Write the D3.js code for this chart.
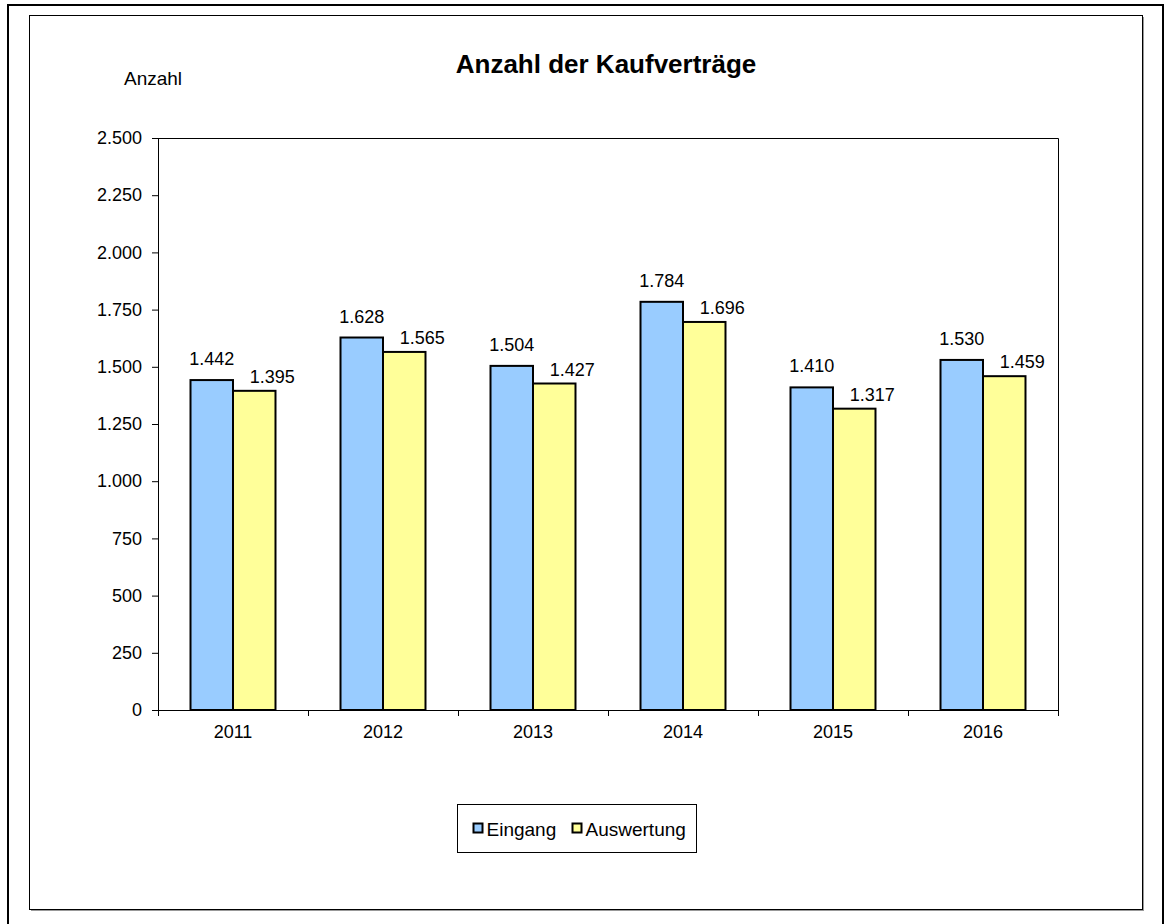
<!DOCTYPE html>
<html>
<head>
<meta charset="utf-8">
<script src="https://cdn.jsdelivr.net/npm/d3@7"></script>
<style>
  body { margin: 0; background: #fff; }
  text { font-family: "Liberation Sans", Arial, sans-serif; fill: #000; }
</style>
</head>
<body>
<div id="chart"></div>
<script>
// Data
const years = ['2011', '2012', '2013', '2014', '2015', '2016'];
const eingang = [1442, 1628, 1504, 1784, 1410, 1530];
const auswertung = [1395, 1565, 1427, 1696, 1317, 1459];
const seriesNames = ['Eingang', 'Auswertung'];
const seriesColors = ['#99ccff', '#ffff99'];
const yTicks = [0, 250, 500, 750, 1000, 1250, 1500, 1750, 2000, 2250, 2500];

const W = 1167, H = 924;
const plot = { left: 158, top: 138, right: 1058, bottom: 710 };
const fmt = v => d3.format(',')(v).replace(/,/g, '.');
// label offsets per series (Excel nudges the second series' labels)
const labelDx = [0, 18];
const labelDy = [-15, -8];

const svg = d3.select('#chart').append('svg')
    .attr('width', W)
    .attr('height', H);

// outer frame
svg.append('rect')
    .attr('x', 8).attr('y', 5)
    .attr('width', 1155).attr('height', 930)
    .attr('fill', 'none')
    .attr('stroke', '#000')
    .attr('stroke-width', 2);

// inner chart area with light shadow
svg.append('rect')
    .attr('x', 31).attr('y', 17)
    .attr('width', 1113).attr('height', 894)
    .attr('fill', '#999');
svg.append('rect')
    .attr('x', 29.5).attr('y', 15.5)
    .attr('width', 1113).attr('height', 894)
    .attr('fill', '#fff')
    .attr('stroke', '#000')
    .attr('stroke-width', 1);

const x0 = d3.scaleBand()
    .domain(years)
    .range([plot.left, plot.right]);

const x1 = d3.scaleBand()
    .domain(seriesNames)
    .range([0, x0.bandwidth()])
    .paddingOuter(0.765);

const y = d3.scaleLinear()
    .domain([0, 2500])
    .range([plot.bottom, plot.top]);

// plot frame (top and right)
svg.append('path')
    .attr('d', `M${plot.left},${plot.top + 0.5}H${plot.right + 0.5}V${plot.bottom}`)
    .attr('fill', 'none')
    .attr('stroke', '#000')
    .attr('stroke-width', 1);

// bars
const rows = years.map((yr, i) => ({ year: yr, values: [eingang[i], auswertung[i]] }));

const groups = svg.selectAll('g.group')
    .data(rows)
    .join('g')
    .attr('class', 'group')
    .attr('transform', d => `translate(${x0(d.year)},0)`);

groups.selectAll('rect')
    .data(d => d.values.map((v, j) => ({ name: seriesNames[j], value: v, color: seriesColors[j] })))
    .join('rect')
    .attr('x', d => x1(d.name))
    .attr('y', d => y(d.value))
    .attr('width', x1.bandwidth())
    .attr('height', d => y(0) - y(d.value))
    .attr('fill', d => d.color)
    .attr('stroke', '#000')
    .attr('stroke-width', 2);

groups.selectAll('text.val')
    .data(d => d.values.map((v, j) => ({ name: seriesNames[j], value: v, j })))
    .join('text')
    .attr('class', 'val')
    .attr('x', d => x1(d.name) + x1.bandwidth() / 2 + labelDx[d.j])
    .attr('y', d => y(d.value) + labelDy[d.j])
    .attr('text-anchor', 'middle')
    .style('font-size', '18px')
    .text(d => fmt(d.value));

// y axis
const yAxis = svg.append('g')
    .attr('transform', `translate(${plot.left},0)`)
    .call(d3.axisLeft(y).tickValues(yTicks).tickSize(6).tickPadding(10).tickFormat(fmt));
yAxis.select('.domain').attr('stroke-width', 1).attr('d', `M0.5,${plot.top}V${plot.bottom}`);
yAxis.selectAll('text').style('font-size', '18px').attr('font-family', null);

// x axis with ticks between categories
const xAxis = svg.append('g')
    .attr('transform', `translate(0,${plot.bottom})`);
xAxis.append('line')
    .attr('x1', plot.left).attr('x2', plot.right)
    .attr('y1', 0.5).attr('y2', 0.5)
    .attr('stroke', '#000');
xAxis.selectAll('line.tick')
    .data(years.concat(['end']))
    .join('line')
    .attr('class', 'tick')
    .attr('x1', d => (d === 'end' ? plot.right : x0(d)) + 0.5)
    .attr('x2', d => (d === 'end' ? plot.right : x0(d)) + 0.5)
    .attr('y1', 0).attr('y2', 6)
    .attr('stroke', '#000');
xAxis.selectAll('text')
    .data(years)
    .join('text')
    .attr('x', d => x0(d) + x0.bandwidth() / 2)
    .attr('y', 28)
    .attr('text-anchor', 'middle')
    .style('font-size', '18px')
    .text(d => d);

// titles
svg.append('text')
    .attr('x', 606).attr('y', 73)
    .attr('text-anchor', 'middle')
    .style('font-size', '26px')
    .style('font-weight', 'bold')
    .text('Anzahl der Kaufverträge');

svg.append('text')
    .attr('x', 124).attr('y', 85)
    .style('font-size', '19px')
    .text('Anzahl');

// legend
const legend = svg.append('g').attr('transform', 'translate(457.5,804.5)');
legend.append('rect')
    .attr('width', 239).attr('height', 48)
    .attr('fill', '#fff')
    .attr('stroke', '#000');
const items = [{ x: 16, tx: 29 }, { x: 115, tx: 128 }];
seriesNames.forEach((name, i) => {
    legend.append('rect')
        .attr('x', items[i].x).attr('y', 19)
        .attr('width', 9).attr('height', 9)
        .attr('fill', seriesColors[i])
        .attr('stroke', '#000')
        .attr('stroke-width', 2);
    legend.append('text')
        .attr('x', items[i].tx).attr('y', 31)
        .style('font-size', '19px')
        .text(name);
});
</script>
</body>
</html>
